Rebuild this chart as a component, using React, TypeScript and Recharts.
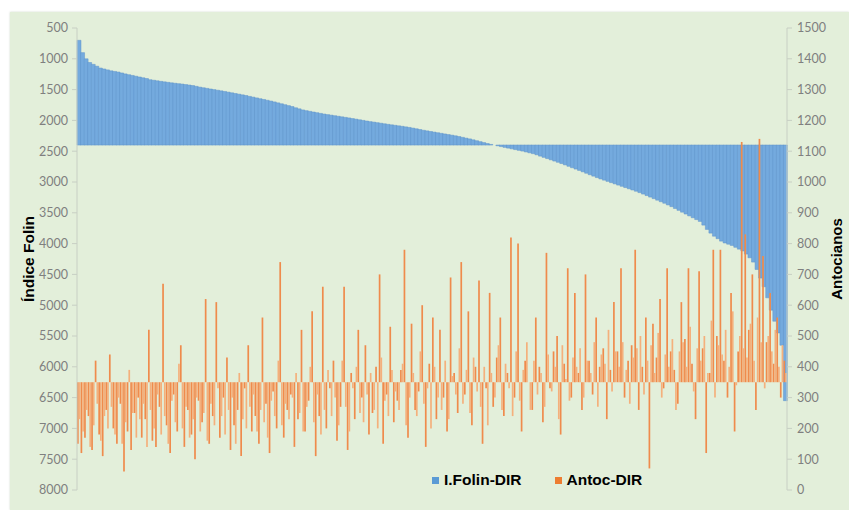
import React from 'react';
import { ComposedChart, Bar, XAxis, YAxis, Legend } from 'recharts';

const FOLIN_BASE = 2400;
const ANTOC_BASE = 350;

const leftTicks = [500, 1000, 1500, 2000, 2500, 3000, 3500, 4000, 4500, 5000, 5500, 6000, 6500, 7000, 7500, 8000];
const rightTicks = [0, 100, 200, 300, 400, 500, 600, 700, 800, 900, 1000, 1100, 1200, 1300, 1400, 1500];

const folin = [
  700, 900, 1000, 1060, 1090, 1120, 1150, 1165, 1180, 1195,
  1205, 1215, 1230, 1245, 1258, 1270, 1283, 1295, 1308, 1320,
  1340, 1348, 1357, 1366, 1374, 1382, 1390, 1397, 1404, 1410,
  1418, 1426, 1434, 1447, 1460, 1470, 1480, 1490, 1500, 1510,
  1520, 1530, 1541, 1552, 1563, 1574, 1585, 1596, 1610, 1622,
  1635, 1648, 1660, 1673, 1686, 1700, 1715, 1730, 1745, 1760,
  1775, 1795, 1812, 1830, 1842, 1853, 1864, 1875, 1886, 1897,
  1906, 1915, 1924, 1933, 1942, 1951, 1960, 1970, 1980, 1990,
  2000, 2010, 2020, 2028, 2037, 2046, 2055, 2064, 2072, 2080,
  2088, 2096, 2105, 2114, 2125, 2136, 2148, 2160, 2170, 2180,
  2190, 2200, 2210, 2220, 2230, 2240, 2250, 2262, 2275, 2288,
  2300, 2315, 2330, 2345, 2360, 2375, 2390, 2400, 2412, 2425,
  2438, 2450, 2462, 2474, 2486, 2498, 2512, 2526, 2540, 2558,
  2580, 2600, 2620, 2640, 2660, 2680, 2700, 2722, 2745, 2768,
  2790, 2812, 2835, 2858, 2882, 2905, 2928, 2950, 2970, 2990,
  3010, 3030, 3050, 3070, 3090, 3110, 3130, 3150, 3172, 3196,
  3220, 3245, 3270, 3295, 3320, 3345, 3372, 3400, 3430, 3460,
  3490, 3520, 3550, 3580, 3610, 3640, 3700, 3770, 3830, 3880,
  3920, 3960, 3990, 4010, 4030, 4060, 4090, 4120, 4170, 4230,
  4300, 4420, 4560, 4700, 4880, 5080, 5260, 5450, 5650, 6550,
];

// Antocianos, first sample of each pair
const antocA = [
  150, 120, 170, 240, 130, 420, 180, 110, 260, 440,
  200, 150, 280, 60, 190, 130, 250, 300, 170, 230,
  520, 160, 140, 270, 670, 210, 120, 310, 190, 470,
  140, 260, 180, 100, 290, 220, 620, 150, 240, 610,
  170, 300, 430, 130, 210, 260, 110, 330, 470, 190,
  240, 150, 560, 280, 120, 320, 200, 740, 170, 260,
  310, 140, 230, 520, 190, 290, 580, 110, 240, 660,
  200, 330, 420, 160, 270, 660, 130, 380, 230, 520,
  300, 470, 180, 250, 400, 700, 150, 310, 530, 220,
  290, 390, 780, 170, 540, 260, 320, 600, 140, 410,
  560, 230, 520, 300, 190, 690, 380, 250, 740, 310,
  580, 210, 400, 680, 150, 330, 640, 270, 430, 560,
  240, 380, 820, 300, 800, 190, 420, 350, 260, 560,
  400, 220, 770, 330, 450, 500, 180, 410, 720, 300,
  640, 380, 260, 700, 420, 310, 560, 400, 460, 230,
  390, 610, 450, 720, 300, 420, 470, 780, 260, 400,
  560, 70, 540, 430, 620, 330, 720, 450, 390, 280,
  610, 490, 720, 410, 230, 710, 460, 120, 380, 780,
  500, 780, 420, 300, 640, 190, 450, 1130, 830, 520,
  700, 260, 1140, 760, 480, 640, 410, 560, 300, 420,
];

// Antocianos, second sample of each pair
const antocB = [
  230, 190, 260, 140, 210, 280, 160, 240, 200, 270,
  180, 300, 150, 220, 390, 250, 170, 230, 280, 140,
  260, 200, 310, 180, 240, 150, 290, 220, 410, 200,
  270, 170, 230, 300, 190, 250, 160, 280, 210, 330,
  240, 180, 260, 300, 150, 380, 230, 200, 270, 310,
  190, 260, 220, 170, 290, 240, 420, 210, 280, 230,
  300, 380, 250, 190, 270, 400, 220, 310, 180, 260,
  390, 240, 300, 210, 420, 270, 190, 330, 400, 250,
  220, 310, 380, 260, 200, 430, 290, 240, 390, 320,
  260, 410, 210, 300, 380, 240, 450, 280, 330, 200,
  400, 300, 260, 420, 230, 370, 310, 460, 280, 390,
  250, 430, 320, 270, 400, 210, 380, 300, 470, 260,
  410, 330, 240, 450, 290, 390, 480, 260, 420, 310,
  380, 270, 440, 320, 400, 230, 470, 360, 290, 430,
  400, 460, 300, 420, 380, 480, 270, 440, 410, 520,
  320, 450, 400, 480, 390, 280, 430, 460, 500, 310,
  420, 470, 380, 510, 300, 440, 400, 490, 260, 450,
  480, 400, 530, 320, 460, 420, 500, 380, 550, 300,
  470, 440, 520, 400, 580, 340, 500, 460, 430, 540,
  420, 560, 480, 330, 500, 450, 520, 400, 470, 380,
];

const categories = folin.map((_, i) => String(i + 1));

const data = categories.map((c, i) => ({
  c,
  folin: [FOLIN_BASE, folin[i]],
  antocA: [ANTOC_BASE, antocA[i]],
  antocB: [ANTOC_BASE, antocB[i]],
}));

const tickStyle = { fill: '#7f7f7f', fontSize: 12.5, fontFamily: 'Lato' };

const LeftLabel = (props: any) => {
  const vb = props.viewBox || {};
  const cx = vb.x + 18;
  const cy = vb.y + vb.height / 2;
  return (
    <text x={cx} y={cy} transform={`rotate(-90 ${cx} ${cy})`} textAnchor="middle" dominantBaseline="central"
      style={{ fontFamily: 'Liberation Sans', fontWeight: 700, fontSize: 15.5, fill: '#000' }}>
      Índice Folin
    </text>
  );
};

const RightLabel = (props: any) => {
  const vb = props.viewBox || {};
  const cx = vb.x + 49;
  const cy = vb.y + vb.height / 2;
  return (
    <text x={cx} y={cy} transform={`rotate(-90 ${cx} ${cy})`} textAnchor="middle" dominantBaseline="central"
      style={{ fontFamily: 'Liberation Sans', fontWeight: 700, fontSize: 15, fill: '#000' }}>
      Antocianos
    </text>
  );
};

const legendItems = [
  { name: 'I.Folin-DIR', color: '#5b9bd5' },
  { name: 'Antoc-DIR', color: '#ed7d31' },
];

const LegendContent = () => (
  <div style={{ display: 'flex', alignItems: 'center', fontFamily: 'Liberation Sans', fontWeight: 700, fontSize: 15.5, color: '#000' }}>
    {legendItems.map((it, i) => (
      <div key={it.name} style={{ display: 'flex', alignItems: 'center', marginRight: i === 0 ? 33 : 0 }}>
        <span style={{ display: 'inline-block', width: 7, height: 7, background: it.color, marginRight: 5 }} />
        <span>{it.name}</span>
      </div>
    ))}
  </div>
);

export default function App() {
  return (
    <div style={{ position: 'absolute', left: 0, top: 0, width: 849, height: 510, background: '#ffffff', overflow: 'hidden' }}>
      <div style={{ position: 'absolute', left: 10, top: 12, width: 839, height: 498, background: '#e3efda', boxShadow: '0 0 2px #d0d8cc' }} />
      <div style={{ position: 'absolute', left: 0, top: 0 }}>
        <ComposedChart width={849} height={510} data={data} margin={{ top: 28, right: 7, bottom: 20, left: 10 }}
          barCategoryGap={0} barGap={0}>
          <XAxis xAxisId="a" dataKey="c" hide />
          <XAxis xAxisId="b" dataKey="c" hide />
          <YAxis yAxisId="left" orientation="left" reversed domain={[500, 8000]} ticks={leftTicks} width={67}
            allowDataOverflow interval={0} tick={tickStyle} tickSize={5} tickMargin={4}
            axisLine={{ stroke: '#c8cfc4' }} tickLine={{ stroke: '#c8cfc4' }} label={<LeftLabel />} />
          <YAxis yAxisId="right" orientation="right" domain={[0, 1500]} ticks={rightTicks} width={55}
            allowDataOverflow interval={0} tick={tickStyle} tickSize={5} tickMargin={5}
            axisLine={{ stroke: '#c8cfc4' }} tickLine={{ stroke: '#c8cfc4' }} label={<RightLabel />} />
          <Bar xAxisId="a" yAxisId="left" dataKey="folin" name="I.Folin-DIR" fill="#74aade" stroke="#6195cb" strokeWidth={0.5}
            isAnimationActive={false} />
          <Bar xAxisId="b" yAxisId="right" dataKey="antocA" name="Antoc-DIR" fill="#ef8b4c" barSize={1.7}
            isAnimationActive={false} />
          <Bar xAxisId="b" yAxisId="right" dataKey="antocB" name="Antoc-DIR b" fill="#f4b07c" barSize={1.7}
            isAnimationActive={false} />
          <Legend verticalAlign="middle" layout="horizontal" content={<LegendContent />}
            wrapperStyle={{ left: 432, top: 471, width: 260, height: 20 }} />
        </ComposedChart>
      </div>
    </div>
  );
}
